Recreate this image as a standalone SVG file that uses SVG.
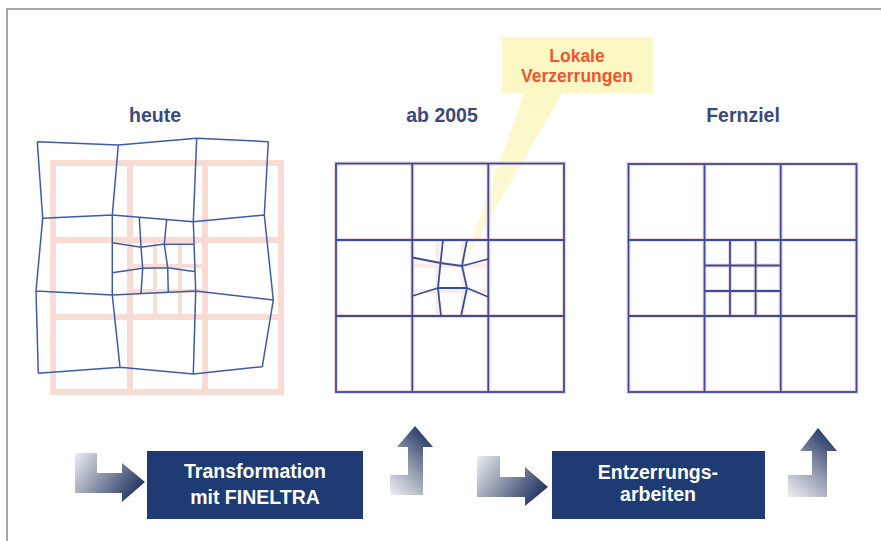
<svg xmlns="http://www.w3.org/2000/svg" width="881" height="541" viewBox="0 0 881 541">
<defs>
<style>
.title{font-family:"Liberation Sans",Arial,sans-serif;font-weight:bold;font-size:19.5px;fill:#3b4a7a;text-anchor:middle}
.call{font-family:"Liberation Sans",Arial,sans-serif;font-weight:bold;font-size:17.5px;fill:#f2552c;text-anchor:middle}
.btxt{font-family:"Liberation Sans",Arial,sans-serif;font-weight:bold;font-size:19.5px;fill:#ffffff;text-anchor:middle}
.pinkbg{fill:none;stroke:#f8dbd2;stroke-width:6}
.pinkfine{fill:none;stroke:#f8ddd5;stroke-width:4}
.warp{fill:none;stroke:#3f5aa8;stroke-width:1.5;stroke-linejoin:round}
.halo{fill:none;stroke:#f6d6d6;stroke-width:4}
.grid{fill:none;stroke:#3a4c9e;stroke-width:1.8}
.box{fill:#1f3b73}
</style>
<linearGradient id="gRight" x1="0" y1="0" x2="1" y2="0.5">
<stop offset="0" stop-color="#eceef2"/>
<stop offset="0.45" stop-color="#959db0"/>
<stop offset="1" stop-color="#2b3c68"/>
</linearGradient>
<linearGradient id="gUp" x1="0" y1="1" x2="0.6" y2="0">
<stop offset="0" stop-color="#f0f1f4"/>
<stop offset="0.5" stop-color="#959db0"/>
<stop offset="1" stop-color="#2e3f6a"/>
</linearGradient>
<linearGradient id="gCall" x1="0" y1="0" x2="0" y2="1">
<stop offset="0" stop-color="#fbf8c6"/>
<stop offset="1" stop-color="#fcfadc"/>
</linearGradient>
</defs>
<rect x="0" y="0" width="881" height="541" fill="#ffffff"/>
<path d="M7,541 L7,9 L881,9" fill="none" stroke="#8a8a8a" stroke-width="1.5"/>

<g id="callout">
<polygon points="525,92 563,92 462,266" fill="url(#gCall)"/>
<rect x="502" y="37" width="151" height="56" fill="#fbf8c6"/>
<text class="call" x="577" y="62">Lokale</text>
<text class="call" x="577" y="82">Verzerrungen</text>
</g>

<g id="panel-heute">
<text class="title" x="155" y="122">heute</text>
<rect class="pinkbg" x="53" y="163" width="228" height="229"/>
<path class="pinkbg" d="M130,163 V392 M205,163 V392 M53,240 H281 M53,317 H281"/>
<path class="pinkfine" d="M155,240 V317 M180,240 V317 M130,266 H205 M130,291 H205"/>
<path class="warp" d="M37.3,141.7 L118.3,145 L196.7,138.3 L268.3,141.7 M42.7,218.3 L112.3,215 L193.3,221.7 L264.3,215 M36,291 L112.3,295 L195.7,291 L273.3,300 M38.3,373.3 L120,367.3 L193.3,374 L262.3,366.7 M37.3,141.7 L42.7,218.3 L36,291 L38.3,373.3 M118.3,145 L112.3,215 L112.3,295 L120,367.3 M196.7,138.3 L193.3,221.7 L195.7,291 L193.3,374 M268.3,141.7 L264.3,215 L273.3,300 L262.3,366.7 M139.3,217.7 L141,247.3 L142.7,268.3 L141,293.3 M166.7,219.3 L164.3,244 L167.7,267.7 L168.3,292.7 M112.3,242.7 L141,247.3 L164.3,244 L194.3,244.3 M112.3,272.7 L142.7,268.3 L167.7,267.7 L195.7,271.7"/>
</g>

<g id="panel-ab2005">
<text class="title" x="442" y="122">ab 2005</text>
<path class="pinkfine" d="M437.5,240 V316 M463,240 V316 M412,265.5 H488 M412,291 H488" opacity="0.6"/>
<rect class="halo" x="336" y="163.5" width="228" height="228.5"/>
<path class="halo" d="M412.3,163.5 V392 M488.3,163.5 V392 M336,240 H564 M336,316 H564"/>
<rect class="grid" x="336" y="163.5" width="228" height="228.5"/>
<path class="grid" d="M412.3,163.5 V392 M488.3,163.5 V392 M336,240 H564 M336,316 H564"/>
<path class="grid" d="M443,240 L440.5,263 L438,288 L441,316 M467,240 L462,266 L467,288 L461,316 M412.3,257.5 L440.5,263 L462,266 L488.3,259 M412.3,296 L438,288 L467,288 L488.3,297" stroke-linejoin="round"/>
</g>

<g id="panel-fernziel">
<text class="title" x="743" y="122">Fernziel</text>
<rect class="halo" x="628.5" y="164" width="228" height="228"/>
<path class="halo" d="M704.5,164 V392 M780.7,164 V392 M628.5,240 H856.5 M628.5,316 H856.5 M730,240 V316 M755.6,240 V316 M704.5,265.5 H780.7 M704.5,291 H780.7"/>
<rect class="grid" x="628.5" y="164" width="228" height="228"/>
<path class="grid" d="M704.5,164 V392 M780.7,164 V392 M628.5,240 H856.5 M628.5,316 H856.5 M730,240 V316 M755.6,240 V316 M704.5,265.5 H780.7 M704.5,291 H780.7"/>
</g>

<g id="box-transformation">
<rect class="box" x="147" y="451" width="216" height="68"/>
<text class="btxt" x="255" y="478">Transformation</text>
<text class="btxt" x="255" y="504">mit FINELTRA</text>
</g>

<g id="box-entzerrung">
<rect class="box" x="552" y="451" width="213" height="68"/>
<text class="btxt" x="658" y="479">Entzerrungs-</text>
<text class="btxt" x="658" y="501">arbeiten</text>
</g>

<g id="connectors">
<path d="M75,453 L97,453 L97,473 L122,473 L122,463 L145,482 L122,502 L122,493 L75,493 Z" fill="url(#gRight)"/>
<path d="M390,475 L408,475 L408,447 L397,447 L415,426 L433,447 L423,447 L423,495 L390,495 Z" fill="url(#gUp)"/>
<path d="M477,456 L500,456 L500,477 L525,477 L525,467 L548,487 L525,506 L525,497 L477,497 Z" fill="url(#gRight)"/>
<path d="M788,475 L812,475 L812,451 L800,451 L818,428 L837,451 L827,451 L827,497 L788,497 Z" fill="url(#gUp)"/>
</g>
</svg>
